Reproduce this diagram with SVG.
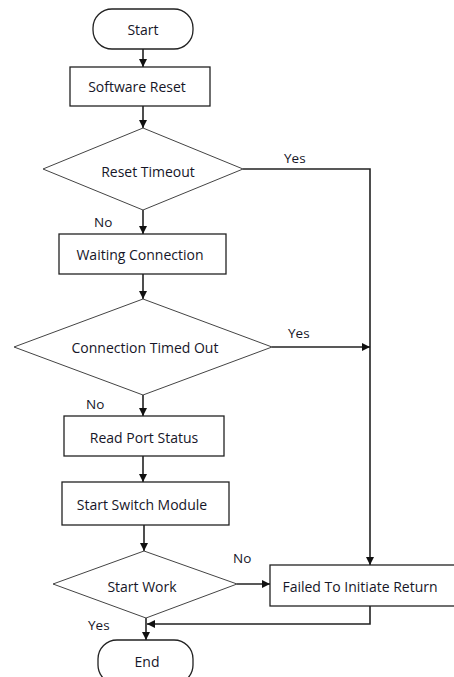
<svg xmlns="http://www.w3.org/2000/svg" width="454" height="677" viewBox="0 0 454 677">
  <style>
    .box { fill: #ffffff; stroke: #222222; stroke-width: 1.3; }
    .dia { fill: #ffffff; stroke: #444444; stroke-width: 1; }
    .lbl { font-family: "Open Sans", "Liberation Sans", sans-serif; font-size: 14px; fill: #161628; text-anchor: middle; dominant-baseline: central; }
    .tag { font-family: "Open Sans", "Liberation Sans", sans-serif; font-size: 13.5px; fill: #161628; dominant-baseline: central; }
    .wire { fill: none; stroke: #222222; stroke-width: 1.6; }
  </style>
  <defs>
    <marker id="arrow" viewBox="0 0 10 10" refX="10" refY="5" markerWidth="8" markerHeight="8" markerUnits="userSpaceOnUse" orient="auto">
      <path d="M0,0 L10,5 L0,10 Z" fill="#111111"/>
    </marker>
  </defs>
  <rect width="454" height="677" fill="#ffffff"/>

  <!-- connectors -->
  <g id="connectors">
    <line class="wire" x1="143" y1="49" x2="143" y2="67" marker-end="url(#arrow)"/>
    <line class="wire" x1="143" y1="106" x2="143" y2="128" marker-end="url(#arrow)"/>
    <line class="wire" x1="143" y1="210" x2="143" y2="234" marker-end="url(#arrow)"/>
    <line class="wire" x1="143" y1="274" x2="143" y2="299" marker-end="url(#arrow)"/>
    <line class="wire" x1="143" y1="395" x2="143" y2="416" marker-end="url(#arrow)"/>
    <line class="wire" x1="143" y1="456" x2="143" y2="482" marker-end="url(#arrow)"/>
    <line class="wire" x1="144" y1="525" x2="144" y2="551" marker-end="url(#arrow)"/>
    <line class="wire" x1="146" y1="618" x2="146" y2="640" marker-end="url(#arrow)"/>
    <!-- Yes branches to failure path -->
    <polyline class="wire" points="243,169 370,169 370,565" marker-end="url(#arrow)"/>
    <line class="wire" x1="272" y1="347" x2="370" y2="347" marker-end="url(#arrow)"/>
    <!-- No branch of Start Work -->
    <line class="wire" x1="237" y1="584" x2="270" y2="584" marker-end="url(#arrow)"/>
    <!-- return from failure box -->
    <polyline class="wire" points="370,606 370,624 147,624" marker-end="url(#arrow)"/>
    <text class="tag" x="284" y="158">Yes</text>
    <text class="tag" x="94" y="222">No</text>
    <text class="tag" x="288" y="333">Yes</text>
    <text class="tag" x="86" y="404">No</text>
    <text class="tag" x="233" y="558">No</text>
    <text class="tag" x="88" y="625">Yes</text>
  </g>

  <g id="start">
    <rect class="box" x="93" y="9" width="100" height="40" rx="19"/>
    <text class="lbl" x="143" y="29">Start</text>
  </g>
  <g id="software-reset">
    <rect class="box" x="70" y="67" width="140" height="39"/>
    <text class="lbl" x="137" y="86">Software Reset</text>
  </g>
  <g id="reset-timeout">
    <polygon class="dia" points="143,128 243,169 143,210 43,169"/>
    <text class="lbl" x="148" y="171">Reset Timeout</text>
  </g>
  <g id="waiting-connection">
    <rect class="box" x="59" y="234" width="167" height="40"/>
    <text class="lbl" x="140" y="254">Waiting Connection</text>
  </g>
  <g id="connection-timed-out">
    <polygon class="dia" points="143,299 272,347 143,395 14,347"/>
    <text class="lbl" x="145" y="347">Connection Timed Out</text>
  </g>
  <g id="read-port-status">
    <rect class="box" x="64" y="416" width="160" height="40"/>
    <text class="lbl" x="144" y="437">Read Port Status</text>
  </g>
  <g id="start-switch-module">
    <rect class="box" x="62" y="482" width="167" height="43"/>
    <text class="lbl" x="142" y="504">Start Switch Module</text>
  </g>
  <g id="start-work">
    <polygon class="dia" points="144,551 237,584 146,618 53,584"/>
    <text class="lbl" x="142" y="586">Start Work</text>
  </g>
  <g id="failed-return">
    <rect class="box" x="270" y="565" width="190" height="41"/>
    <text class="lbl" x="360" y="586">Failed To Initiate Return</text>
  </g>
  <g id="end">
    <rect class="box" x="98" y="640" width="95" height="44" rx="19"/>
    <text class="lbl" x="147" y="661">End</text>
  </g>
</svg>
